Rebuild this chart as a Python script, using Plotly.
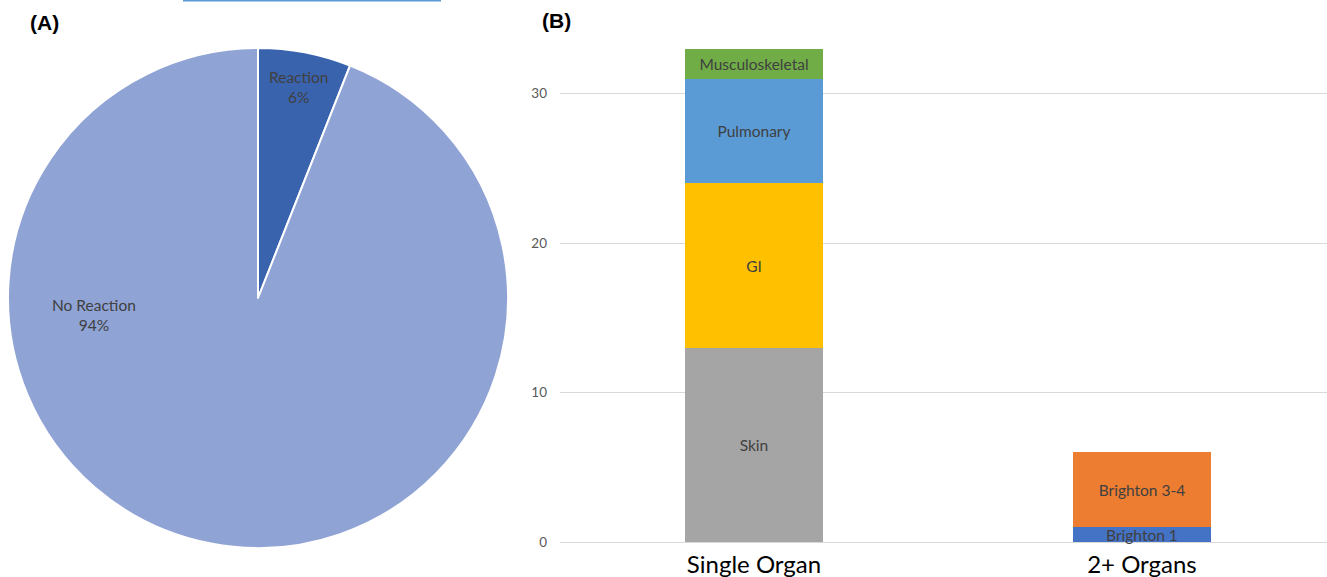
import math
import plotly.graph_objects as go

W, H = 1327, 577

# Panel A: share of patients with a reaction
pie_labels = ["Reaction", "No Reaction"]
pie_values = [6, 94]
pie_colors = ["#3A63AE", "#8FA3D5"]

# Panel B: organ involvement, stacked counts
categories = ["Single Organ", "2+ Organs"]
segments = ["Skin", "GI", "Pulmonary", "Musculoskeletal", "Brighton 1", "Brighton 3-4"]
segment_values = {
    "Skin": [13, 0],
    "GI": [11, 0],
    "Pulmonary": [7, 0],
    "Musculoskeletal": [2, 0],
    "Brighton 1": [0, 1],
    "Brighton 3-4": [0, 5],
}
segment_colors = {
    "Skin": "#A5A5A5",
    "GI": "#FFC000",
    "Pulmonary": "#5B9BD5",
    "Musculoskeletal": "#70AD47",
    "Brighton 1": "#4472C4",
    "Brighton 3-4": "#ED7D31",
}
y_ticks = [0, 10, 20, 30]

label_font = dict(family="Lato, Open Sans, sans-serif", size=15.5, color="#404040")

fig = go.Figure()

# pie occupies a square box on the left
pie_left, pie_top, pie_size = 8, 48, 500
pie_dom_x = [pie_left / W, (pie_left + pie_size) / W]
pie_dom_y = [1 - (pie_top + pie_size) / H, 1 - pie_top / H]

fig.add_trace(go.Pie(
    labels=pie_labels,
    values=pie_values,
    sort=False,
    direction="clockwise",
    rotation=0,
    marker=dict(colors=pie_colors, line=dict(color="white", width=2)),
    textinfo="none",
    hoverinfo="label+percent",
    showlegend=False,
    domain=dict(x=pie_dom_x, y=pie_dom_y),
))

# slice labels: label + percentage computed from the values
total = sum(pie_values)
cx = pie_left + pie_size / 2
cy = pie_top + pie_size / 2
r = pie_size / 2
start = 0.0
label_angles = []
for v in pie_values:
    span = 360.0 * v / total
    label_angles.append(start + span / 2)
    start += span
# outer-edge placement for the small slice, left side for the large one
label_spots = [
    (label_angles[0], 0.86),
    (264.0, 0.66),
]
for name, v, (ang, rf) in zip(pie_labels, pie_values, label_spots):
    px = cx + rf * r * math.sin(math.radians(ang))
    py = cy - rf * r * math.cos(math.radians(ang))
    fig.add_annotation(
        x=px / W, y=1 - py / H, xref="paper", yref="paper",
        xanchor="center", yanchor="middle",
        text=f"{name}<br>{round(100 * v / total)}%",
        showarrow=False, font=label_font, align="center",
    )

# stacked bars
for seg in segments:
    vals = segment_values[seg]
    fig.add_trace(go.Bar(
        x=categories,
        y=[v if v else None for v in vals],
        name=seg,
        marker=dict(color=segment_colors[seg], line=dict(width=0)),
        text=[seg if v else "" for v in vals],
        textposition="inside",
        insidetextanchor="middle",
        textangle=0,
        textfont=label_font,
        cliponaxis=False,
        showlegend=False,
        xaxis="x", yaxis="y",
    ))

plot_left, plot_right = 560, W
y_zero_px, y_top_px = 542, 19
fig.update_layout(
    width=W, height=H,
    margin=dict(l=0, r=0, t=0, b=0, autoexpand=False),
    paper_bgcolor="white",
    plot_bgcolor="white",
    barmode="stack",
    bargap=0.644,
    uniformtext=dict(minsize=8, mode="show"),
    xaxis=dict(
        domain=[plot_left / W, plot_right / W],
        range=[-0.5, 1.477],
        showgrid=False, zeroline=False, showline=False,
        ticks="", automargin=False, ticklabelstandoff=6,
        tickfont=dict(family="Lato, Open Sans, sans-serif", size=24, color="#000000"),
        anchor="y",
    ),
    yaxis=dict(
        domain=[1 - y_zero_px / H, 1 - y_top_px / H],
        range=[0, 35],
        tickvals=y_ticks,
        showgrid=True, gridcolor="#D9D9D9", gridwidth=1,
        zeroline=True, zerolinecolor="#D9D9D9", zerolinewidth=1,
        showline=False,
        ticks="", ticklabelstandoff=12, automargin=False,
        tickfont=dict(family="Lato, Open Sans, sans-serif", size=13.5, color="#595959"),
        anchor="x",
    ),
)

# panel letters
letter_font = dict(family="Liberation Sans, Arial, sans-serif", size=21, color="#000000")
fig.add_annotation(x=28 / W, y=1 - 22 / H, xref="paper", yref="paper",
                   text="<b>(A)</b>", showarrow=False, xanchor="left", yanchor="middle",
                   font=letter_font)
fig.add_annotation(x=540 / W, y=1 - 20 / H, xref="paper", yref="paper",
                   text="<b>(B)</b>", showarrow=False, xanchor="left", yanchor="middle",
                   font=letter_font)

# thin rule along the top edge
fig.add_shape(type="line", xref="paper", yref="paper",
              x0=183 / W, x1=441 / W, y0=1 - 0.5 / H, y1=1 - 0.5 / H,
              line=dict(color="#5B9BD5", width=2))

fig.write_html("out.html")
